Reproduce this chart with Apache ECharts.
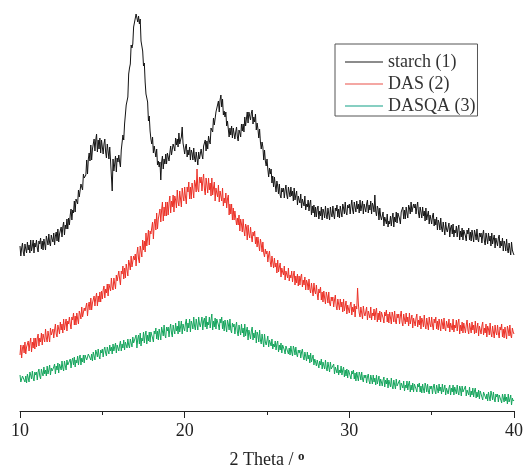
<!DOCTYPE html>
<html>
<head>
<meta charset="utf-8">
<title>XRD patterns</title>
<script src="https://cdn.jsdelivr.net/npm/echarts@6/dist/echarts.min.js"></script>
<style>
  html, body { margin: 0; padding: 0; background: #fff; }
  #chart { width: 529px; height: 468px; }
</style>
</head>
<body>
<div id="chart"></div>
<script>
// Diffraction angle sampling: 10.00 to 40.00 degrees, step 0.05
const angleStart = 10;
const angleStep = 0.05;

const xTicks = [10, 20, 30, 40];
const seriesNames = ['starch (1)', 'DAS (2)', 'DASQA (3)'];

// Intensities (a.u., curves offset vertically), one row per degree
const starch = [
  165,155,163,168,159,155,167,162,158,169,161,166,158,171,160,165,171,158,168,164,
  171,163,159,170,167,173,162,170,161,172,167,161,175,171,166,177,168,165,176,172,
  169,178,166,175,179,170,182,169,177,175,184,174,184,189,176,186,182,192,182,193,
  186,196,202,191,201,198,210,199,212,211,207,221,214,213,227,228,221,237,233,233,
  236,251,237,252,258,250,266,251,262,260,272,260,271,277,259,271,262,273,258,271,
  270,257,267,272,259,253,267,260,252,264,250,250,220,252,240,247,255,239,253,249,
  256,249,244,261,263,276,271,287,285,306,310,314,337,343,347,366,363,367,384,386,
  386,397,399,389,395,387,392,370,372,360,345,348,329,317,319,309,290,295,280,272,
  267,274,258,265,266,254,262,246,250,244,249,231,249,255,242,252,247,257,247,258,
  259,250,258,265,256,254,267,264,260,273,266,272,264,278,267,271,274,284,268,263,
  257,264,267,254,261,256,264,251,261,258,251,263,253,249,259,257,246,259,252,251,
  262,256,252,265,263,271,260,270,262,275,270,267,283,282,279,293,286,286,299,298,
  298,310,299,311,316,304,312,296,300,294,299,285,290,291,274,283,276,285,273,283,
  282,272,279,284,274,270,281,278,274,287,280,287,279,294,285,292,299,288,299,295,
  291,298,301,287,294,289,297,281,288,282,273,282,269,262,269,264,251,261,250,245,
  252,242,234,243,237,242,228,235,224,234,226,219,230,225,217,227,216,213,223,219,
  223,213,221,226,216,212,224,219,214,224,215,220,210,223,211,216,220,206,215,211,
  208,217,203,212,214,205,215,201,207,204,211,200,207,211,196,205,198,206,194,204,
  194,202,205,192,200,195,204,191,202,199,193,205,196,192,203,201,191,204,197,194,
  205,197,192,203,200,206,194,202,193,205,199,194,207,203,197,209,199,196,206,203,
  207,197,205,211,201,197,209,204,199,210,202,207,198,211,200,205,210,197,207,203,
  199,207,211,198,206,201,210,197,208,205,199,216,200,195,205,202,191,203,195,191,
  191,199,185,194,196,187,197,184,190,187,195,185,193,198,184,194,189,199,188,198,
  200,192,187,199,197,204,192,201,192,204,198,193,206,203,197,209,199,197,207,203,
  207,197,204,209,198,193,204,199,193,204,195,200,190,203,191,196,200,187,196,192,
  187,195,198,185,192,186,194,181,191,188,181,193,183,179,189,187,176,189,182,179,
  179,188,174,183,186,177,187,174,181,178,185,174,182,186,171,180,174,183,171,181,
  183,175,170,181,177,183,171,179,170,181,175,169,181,177,171,182,172,169,178,174,
  178,168,176,181,170,166,178,173,167,178,170,175,165,178,167,172,176,163,173,169,
  165,173,176,163,170,165,173,160,170,167,160,172,162,158,168,166,156,169,161,158,
  156
];

const das = [
  56,66,53,63,66,58,69,57,64,62,70,60,68,73,59,69,63,73,62,73,
  64,73,77,65,73,69,78,66,77,75,69,82,73,69,80,79,69,83,76,74,
  82,73,81,87,77,74,86,82,77,89,81,87,78,92,81,87,92,80,90,87,
  94,87,82,94,91,98,86,95,86,98,92,87,100,97,92,104,94,92,103,100,
  98,108,95,105,109,101,113,101,108,106,115,105,113,118,105,115,109,119,109,120,
  112,121,125,113,122,118,127,115,127,125,120,133,124,121,133,132,122,136,130,128,
  140,132,126,140,137,145,132,143,133,147,141,135,151,147,141,155,144,142,155,151,
  157,145,157,164,152,148,165,160,154,171,161,170,159,178,165,173,181,166,180,177,
  175,189,172,187,192,181,198,182,192,190,202,189,201,209,190,204,195,209,195,209,
  196,208,215,198,210,204,216,199,215,211,203,221,209,205,220,218,204,223,215,210,
  224,214,207,224,219,229,212,224,212,228,221,213,231,227,219,242,222,219,234,228,
  234,220,230,237,222,216,233,226,218,233,221,228,215,233,216,223,229,210,223,218,
  214,226,209,220,222,210,223,205,213,208,218,203,212,216,196,207,197,207,191,203,
  191,200,202,186,193,186,196,180,192,187,179,192,181,175,187,184,171,186,177,173,
  184,175,169,179,175,180,167,174,164,174,167,160,172,167,159,169,158,154,162,157,
  160,149,156,160,149,144,155,149,143,153,144,148,138,151,139,144,148,134,143,139,
  136,145,131,140,142,133,143,130,136,133,140,129,136,140,126,135,128,137,125,135,
  126,134,137,124,131,126,134,121,131,128,121,132,122,118,128,126,115,128,120,117,
  126,117,111,122,118,124,111,119,109,120,113,107,119,115,108,119,108,105,114,110,
  114,104,111,116,105,101,112,107,101,112,104,109,99,112,100,105,110,97,106,102,
  98,106,109,96,104,99,107,94,105,102,123,107,98,94,104,102,92,105,98,95,
  95,104,91,100,102,93,104,91,98,95,102,91,99,103,89,98,91,100,89,99,
  101,93,88,99,95,101,89,97,88,99,93,87,99,95,89,100,90,87,97,93,
  97,87,95,100,89,85,97,92,87,98,89,94,85,98,87,92,96,83,93,89,
  85,93,97,84,91,86,95,82,93,90,84,96,86,82,93,91,81,94,87,84,
  94,86,81,92,88,94,82,90,81,92,86,80,92,88,82,93,83,80,90,86,
  83,92,79,88,90,81,92,79,86,83,91,80,88,92,77,86,80,89,78,88,
  88,78,86,91,81,77,88,83,78,89,81,86,77,90,78,83,88,75,85,81,
  77,85,89,76,83,78,87,74,85,82,76,88,78,74,85,83,73,86,79,76,
  86,78,73,84,81,87,74,82,73,84,78,72,85,81,75,86,76,73,83,79,
  77
];

const dasqa = [
  36,29,27,35,33,37,29,35,28,37,33,29,39,36,32,40,33,30,39,36,
  39,31,39,42,35,32,42,38,35,44,37,41,35,45,37,41,46,36,43,40,
  38,44,47,37,45,41,48,38,47,45,41,50,43,40,50,48,41,51,46,44,
  45,52,43,50,53,46,54,44,51,48,55,46,53,56,46,53,49,56,48,56,
  58,51,49,57,55,59,51,57,50,59,55,51,61,58,54,62,55,52,61,58,
  62,54,61,64,58,55,64,60,57,66,60,64,57,67,60,64,68,58,66,63,
  60,66,70,60,67,63,71,61,69,67,63,72,66,63,72,70,64,74,68,66,
  67,76,63,72,76,67,78,65,73,70,79,68,76,80,67,76,70,79,69,79,
  81,73,69,80,77,83,72,80,71,82,77,71,84,80,75,86,76,73,84,80,
  84,74,82,87,78,74,86,81,77,88,80,85,77,90,79,84,90,77,87,83,
  80,88,92,79,88,83,92,79,90,87,82,94,85,81,92,90,81,94,87,84,
  85,94,81,90,93,84,95,82,89,86,94,83,91,97,81,90,84,93,82,92,
  94,86,81,92,88,94,82,90,80,91,85,79,91,87,81,92,81,78,88,84,
  87,77,84,89,79,75,86,81,76,87,78,83,74,87,75,80,84,71,81,77,
  72,80,84,71,78,73,81,68,79,76,69,81,71,67,77,75,64,77,69,66,
  68,75,64,71,72,65,72,62,67,64,70,61,67,70,59,66,61,68,58,66,
  68,61,57,65,63,67,57,63,56,65,59,55,65,62,56,64,57,54,61,58,
  61,53,59,62,54,51,59,55,50,59,52,56,48,58,49,53,56,46,52,49,
  45,51,53,43,50,46,52,42,49,47,42,51,43,40,49,47,39,49,42,40,
  40,47,37,44,45,38,46,36,41,38,45,36,41,44,34,41,35,42,33,41,
  42,35,32,40,37,41,32,38,30,39,34,30,39,36,31,39,32,29,36,33,
  36,28,34,37,30,27,36,32,27,36,29,33,26,36,27,31,35,25,32,29,
  25,31,34,24,31,27,33,23,31,29,24,33,25,22,31,29,22,32,25,23,
  24,31,21,28,30,23,30,20,26,23,30,21,27,30,19,26,21,28,19,27,
  29,22,19,27,24,28,19,25,18,27,22,18,28,25,19,27,20,17,25,22,
  25,17,24,27,20,17,26,22,18,27,20,24,17,27,19,22,26,16,23,20,
  17,23,26,16,23,19,26,16,24,22,17,26,19,16,25,22,15,25,19,17,
  18,25,15,21,23,16,24,14,20,16,23,14,20,23,13,19,14,21,12,20,
  22,14,11,19,17,21,12,17,10,19,14,10,20,16,11,19,12,9,17,14,
  17,9,16,18,11,8,17,13,9,17,10,14,7,17,9,12,16,6,13,10,
  11
];

const lineColors = ['#141414', '#ec3026', '#14a55c'];
const legendColors = ['#666666', '#f08a84', '#5fbfae'];

function toPairs(values) {
  return values.map((v, i) => [+(angleStart + i * angleStep).toFixed(2), v]);
}

const serif = '"Liberation Serif", "DejaVu Serif", serif';
const chart = echarts.init(document.getElementById('chart'));

chart.setOption({
  animation: false,
  backgroundColor: '#ffffff',
  grid: { left: 20, right: 15, top: 0, bottom: 57, outerBoundsMode: 'none' },
  legend: {
    orient: 'vertical',
    left: 335,
    top: 44,
    padding: [9, 2, 1, 10],
    icon: 'rect',
    itemWidth: 38,
    itemHeight: 1.5,
    itemGap: 4,
    borderColor: '#555',
    borderWidth: 1,
    textStyle: { fontFamily: serif, fontSize: 18, color: '#333' },
    data: seriesNames.map((name, k) => ({
      name: name,
      itemStyle: { color: legendColors[k], borderWidth: 0 }
    }))
  },
  xAxis: {
    type: 'value',
    min: xTicks[0],
    max: xTicks[xTicks.length - 1],
    interval: 10,
    axisLine: { lineStyle: { color: '#222', width: 1 } },
    axisTick: { show: true, length: 7, lineStyle: { color: '#222' } },
    minorTick: { show: true, splitNumber: 2, length: 4, lineStyle: { color: '#222' } },
    splitLine: { show: false },
    axisLabel: { fontFamily: serif, fontSize: 18, color: '#222', margin: 11 },
    name: '{a|2 Theta / }{b|o}',
    nameLocation: 'middle',
    nameGap: 39,
    nameTextStyle: {
      rich: {
        a: { fontFamily: serif, fontSize: 18, color: '#222' },
        b: { fontFamily: serif, fontSize: 13, fontWeight: 'bold', color: '#222', verticalAlign: 'top', padding: [0, 0, 8, 0] }
      }
    }
  },
  yAxis: { type: 'value', min: 0, max: 411, show: false },
  series: [starch, das, dasqa].map((vals, k) => ({
    name: seriesNames[k],
    type: 'line',
    symbol: 'none',
    data: toPairs(vals),
    lineStyle: { color: lineColors[k], width: 1 },
    itemStyle: { color: lineColors[k] }
  }))
});
</script>
</body>
</html>
